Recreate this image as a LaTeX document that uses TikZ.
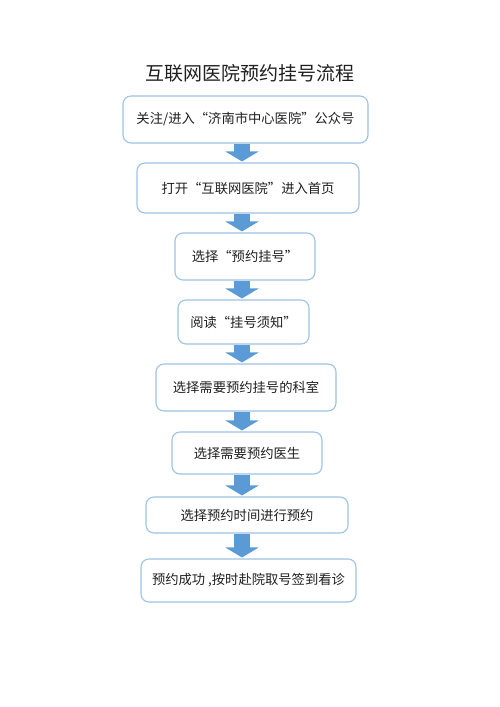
\documentclass[tikz,border=0pt]{standalone}
\usepackage{fontspec}
\setmainfont{Noto Sans CJK SC}
\newfontfamily\cjk{Noto Sans CJK SC}
\usetikzlibrary{arrows.meta,calc}
\definecolor{boxline}{HTML}{9DC3E6}
\definecolor{arrowblue}{HTML}{5B9BD5}
\definecolor{txt}{HTML}{1F1F1F}
\begin{document}
\begin{tikzpicture}[x=1pt,y=-1pt,
  stepbox/.style={draw=boxline,line width=1.1pt,rounded corners=8pt,fill=white,
    inner sep=0pt,text=txt,font=\cjk\fontsize{13.3}{15}\selectfont},
  flowarrow/.style={draw=arrowblue,line width=16pt,line cap=butt,
    -{Triangle[width=33pt 0 0,length=10pt 0 0]}}]
\useasboundingbox (0,0) rectangle (500,707);
\coordinate (ax) at (242,0);
\node[text=txt,font=\cjk\fontsize{19}{21}\selectfont] (title) at (250,73) {互联网医院预约挂号流程};
\node[stepbox,minimum width=245pt,minimum height=47pt] (b1) at (245.5,119.5) {关注/进入“济南市中心医院”公众号};
\node[stepbox,minimum width=222pt,minimum height=50pt] (b2) at (248,188) {打开“互联网医院”进入首页};
\node[stepbox,minimum width=140pt,minimum height=47pt] (b3) at (245,256.5) {选择“预约挂号”};
\node[stepbox,minimum width=131pt,minimum height=44pt] (b4) at (243.5,322) {阅读“挂号须知”};
\node[stepbox,minimum width=180pt,minimum height=47pt] (b5) at (246,387.5) {选择需要预约挂号的科室};
\node[stepbox,minimum width=150pt,minimum height=42pt] (b6) at (247,453) {选择需要预约医生};
\node[stepbox,minimum width=202pt,minimum height=36pt] (b7) at (247,515) {选择预约时间进行预约};
\node[stepbox,minimum width=215pt,minimum height=43pt] (b8) at (248.5,580.5) {预约成功 ,按时赴院取号签到看诊};
\foreach \a/\b in {b1/b2,b2/b3,b3/b4,b4/b5,b5/b6,b6/b7,b7/b8}{
  \draw[flowarrow] (\a.south -| ax) -- ($(\b.north -| ax)+(0,-1)$);
}
\end{tikzpicture}
\end{document}
